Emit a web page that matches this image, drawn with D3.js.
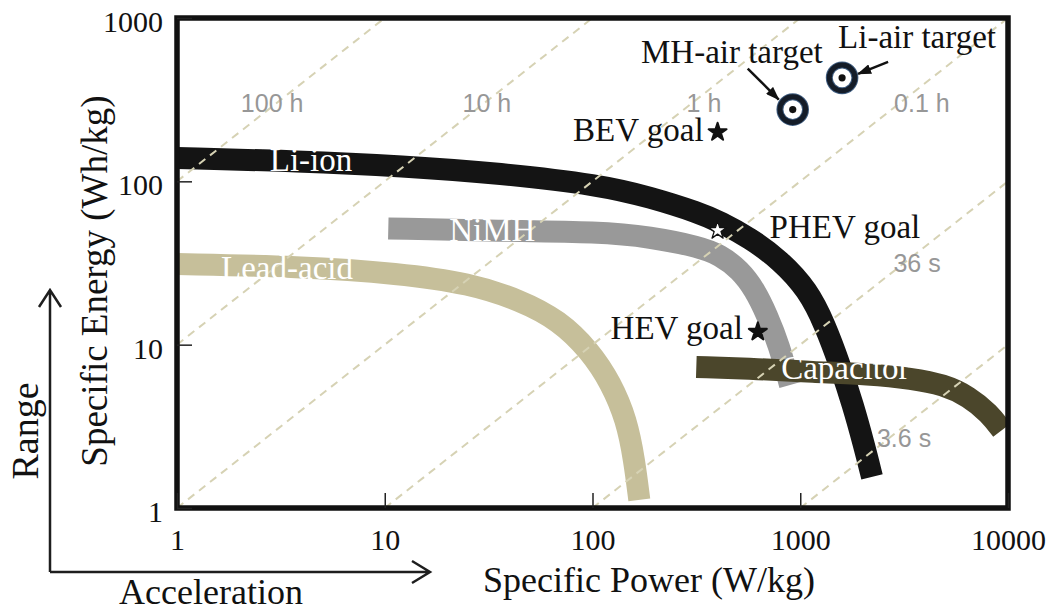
<!DOCTYPE html>
<html>
<head>
<meta charset="utf-8">
<script src="https://cdn.jsdelivr.net/npm/d3@7"></script>
<style>
  html, body { margin: 0; padding: 0; background: #ffffff; }
  svg { display: block; }
</style>
</head>
<body>
<svg id="chart" width="1053" height="611"></svg>
<script>
// Ragone plot: specific energy vs specific power of energy-storage technologies

// ---- data ----
const powerTicks = [1, 10, 100, 1000, 10000];
const energyTicks = [1, 10, 100, 1000];

const technologies = ["Lead-acid", "NiMH", "Li-ion", "Capacitor"];

// specific power (W/kg) / specific energy (Wh/kg) along each technology band
const leadAcidPower  = [1, 3.9, 11.8, 25.6, 45, 69, 97, 123, 146, 159, 168];
const leadAcidEnergy = [31.2, 30.1, 27.3, 23.7, 18.7, 14.1, 9.2, 5.8, 3.45, 1.96, 1.12];

const nimhPower  = [10.4, 36, 109, 189, 329, 411, 513, 606, 692, 790, 893];
const nimhEnergy = [51.5, 49.7, 49, 45.7, 39.6, 35.4, 28.7, 21.6, 15.2, 9.96, 5.66];

const liIonPower  = [1, 3.9, 12.2, 36, 109, 189, 329, 411, 573, 799, 1090, 1316, 1553, 1795, 2028, 2215];
const liIonEnergy = [139, 133, 124, 112, 95, 80, 64, 56.4, 45, 33, 21.6, 13.2, 7.5, 4.27, 2.43, 1.55];

const capacitorPower  = [316, 635, 1140, 2150, 3450, 4900, 6500, 8100, 9350];
const capacitorEnergy = [7.3, 7.1, 6.8, 6.6, 6.2, 5.7, 4.8, 3.8, 3.0];

// constant discharge-time lines (hours) and their labels
const dischargeHours  = [100, 10, 1, 0.1, 0.01, 0.001];
const dischargeLabels = ["100 h", "10 h", "1 h", "0.1 h", "36 s", "3.6 s"];
const dischargeLabelPower  = [2.87, 31, 344, 3850, 3650, 3160];
const dischargeLabelEnergy = [265, 265, 265, 265, 27.9, 2.36];

// vehicle goals
const goalNames  = ["BEV goal", "PHEV goal", "HEV goal"];
const goalPower  = [400, 400, 625];
const goalEnergy = [200, 50, 12];

// metal-air targets
const targetNames  = ["MH-air target", "Li-air target"];
const targetPower  = [920, 1590];
const targetEnergy = [275, 430];

// ---- layout ----
const serif = "'Liberation Serif', 'Times New Roman', serif";
const sans  = "'Liberation Sans', Arial, sans-serif";
const plot = { left: 177, right: 1008, top: 18, bottom: 508 };

const svg = d3.select("#chart");

const x = d3.scaleLog().domain([1, 10000]).range([plot.left, plot.right]);
const y = d3.scaleLog().domain([1, 1000]).range([plot.bottom, plot.top]);

svg.append("defs").append("clipPath").attr("id", "plot-clip")
  .append("rect")
  .attr("x", plot.left).attr("y", plot.top)
  .attr("width", plot.right - plot.left).attr("height", plot.bottom - plot.top);

const bandStyle = {
  "Lead-acid": { color: "#c6bf9a", power: leadAcidPower, energy: leadAcidEnergy,
                 label: { p: 1, e: 30, dx: 110, dy: 12 } },
  "NiMH":      { color: "#999999", power: nimhPower, energy: nimhEnergy,
                 label: { p: 10.4, e: 51, dx: 104, dy: 12 } },
  "Li-ion":    { color: "#141414", power: liIonPower, energy: liIonEnergy,
                 label: { p: 1, e: 137, dx: 134, dy: 12 } },
  "Capacitor": { color: "#4b462b", power: capacitorPower, energy: capacitorEnergy,
                 label: { p: 316, e: 7.3, dx: 149, dy: 12 } }
};

const bandLine = d3.line()
  .x(d => x(d[0]))
  .y(d => y(d[1]))
  .curve(d3.curveBasis);

// technology bands
const bands = svg.append("g").attr("clip-path", "url(#plot-clip)");
technologies.forEach(name => {
  const s = bandStyle[name];
  const pts = s.power.map((p, i) => [p, s.energy[i]]);
  bands.append("path")
    .attr("d", bandLine(pts))
    .attr("fill", "none")
    .attr("stroke", s.color)
    .attr("stroke-width", 22)
    .attr("stroke-linecap", "butt")
    .attr("stroke-linejoin", "round");
});

// constant discharge-time lines E = t * P
const timeLines = svg.append("g").attr("clip-path", "url(#plot-clip)");
dischargeHours.forEach(t => {
  const p0 = Math.max(1, 1 / t);
  const p1 = Math.min(10000, 1000 / t);
  timeLines.append("line")
    .attr("x1", x(p0)).attr("y1", y(t * p0))
    .attr("x2", x(p1)).attr("y2", y(t * p1))
    .attr("stroke", "#d6d2b4")
    .attr("stroke-width", 2)
    .attr("stroke-dasharray", "8,6");
});

// discharge-time labels
svg.append("g").selectAll("text")
  .data(dischargeLabels)
  .join("text")
  .attr("x", (d, i) => x(dischargeLabelPower[i]))
  .attr("y", (d, i) => y(dischargeLabelEnergy[i]))
  .attr("text-anchor", "middle")
  .attr("font-family", sans)
  .attr("font-size", 25)
  .attr("fill", "#979797")
  .text(d => d);

// band labels
technologies.forEach(name => {
  const s = bandStyle[name];
  svg.append("text")
    .attr("x", x(s.label.p) + s.label.dx)
    .attr("y", y(s.label.e) + s.label.dy)
    .attr("text-anchor", "middle")
    .attr("font-family", serif)
    .attr("font-size", 33)
    .attr("fill", "#ffffff")
    .text(name);
});

// frame
svg.append("rect")
  .attr("x", plot.left).attr("y", plot.top)
  .attr("width", plot.right - plot.left).attr("height", plot.bottom - plot.top)
  .attr("fill", "none")
  .attr("stroke", "#111111")
  .attr("stroke-width", 5.5);

// axes (ticks pointing inward)
const xAxis = d3.axisBottom(x)
  .tickValues(powerTicks)
  .tickFormat(d3.format("d"))
  .tickSize(-15)
  .tickPadding(21);
const gx = svg.append("g")
  .attr("transform", `translate(0,${plot.bottom})`)
  .call(xAxis);

const yAxis = d3.axisLeft(y)
  .tickValues(energyTicks)
  .tickFormat(d3.format("d"))
  .tickSize(-15)
  .tickPadding(14);
const gy = svg.append("g")
  .attr("transform", `translate(${plot.left},0)`)
  .call(yAxis);

[gx, gy].forEach(g => {
  g.select(".domain").remove();
  g.selectAll(".tick line").attr("stroke", "#222").attr("stroke-width", 1.5);
  g.selectAll(".tick text")
    .attr("font-family", serif)
    .attr("font-size", 30)
    .attr("fill", "#111");
});
gy.selectAll(".tick text").attr("dy", "0.45em");

// axis titles
svg.append("text")
  .attr("x", 649).attr("y", 592)
  .attr("text-anchor", "middle")
  .attr("font-family", serif).attr("font-size", 36).attr("fill", "#111")
  .text("Specific Power (W/kg)");

svg.append("text")
  .attr("transform", "translate(107,281) rotate(-90)")
  .attr("text-anchor", "middle")
  .attr("font-family", serif).attr("font-size", 37).attr("fill", "#111")
  .text("Specific Energy (Wh/kg)");

// Range / Acceleration arrows
const arrowOrigin = { x: 50, y: 572 };
const guides = svg.append("g")
  .attr("fill", "none").attr("stroke", "#1e1e1e").attr("stroke-width", 2.5);
guides.append("path")
  .attr("d", `M${arrowOrigin.x},${arrowOrigin.y} V290 M${arrowOrigin.x - 11},307 L${arrowOrigin.x},290 L${arrowOrigin.x + 11},307`);
guides.append("path")
  .attr("d", `M${arrowOrigin.x},${arrowOrigin.y} H430 M412,561 L430,${arrowOrigin.y} L412,583`);

svg.append("text")
  .attr("transform", "translate(38,431) rotate(-90)")
  .attr("text-anchor", "middle")
  .attr("font-family", serif).attr("font-size", 38).attr("fill", "#111")
  .text("Range");

svg.append("text")
  .attr("x", 211).attr("y", 604)
  .attr("text-anchor", "middle")
  .attr("font-family", serif).attr("font-size", 36).attr("fill", "#111")
  .text("Acceleration");

// vehicle goal stars
const goalLayout = [
  { fill: "#111111", anchor: "end",   dx: -14, dy: 9 },
  { fill: "#ffffff", anchor: "start", dx: 52,  dy: 7 },
  { fill: "#111111", anchor: "end",   dx: -15, dy: 7 }
];
const star = d3.symbol().type(d3.symbolStar).size(100);
goalNames.forEach((name, i) => {
  const cx = x(goalPower[i]), cy = y(goalEnergy[i]);
  svg.append("path")
    .attr("d", star())
    .attr("transform", `translate(${cx},${cy})`)
    .attr("fill", goalLayout[i].fill)
    .attr("stroke", "#111111")
    .attr("stroke-width", goalLayout[i].fill === "#ffffff" ? 1.3 : 2)
    .attr("stroke-linejoin", "round");
  svg.append("text")
    .attr("x", cx + goalLayout[i].dx)
    .attr("y", cy + goalLayout[i].dy)
    .attr("text-anchor", goalLayout[i].anchor)
    .attr("font-family", serif).attr("font-size", 33).attr("fill", "#111")
    .text(name);
});

// metal-air targets with pointer arrows
svg.select("defs").append("marker")
  .attr("id", "arrowhead")
  .attr("viewBox", "0 0 14 10")
  .attr("refX", 13).attr("refY", 5)
  .attr("markerWidth", 14).attr("markerHeight", 10)
  .attr("markerUnits", "userSpaceOnUse")
  .attr("orient", "auto")
  .append("path")
  .attr("d", "M0,0 L14,5 L0,10 Z")
  .attr("fill", "#111111");

const targetLayout = [
  { anchor: "end",   dx: 30, dy: -47, tip: [-14, -10], tail: [-45, -41] },
  { anchor: "start", dx: -4, dy: -30, tip: [16, -4],   tail: [46, -16] }
];
targetNames.forEach((name, i) => {
  const cx = x(targetPower[i]), cy = y(targetEnergy[i]);
  const L = targetLayout[i];
  svg.append("circle")
    .attr("cx", cx).attr("cy", cy).attr("r", 12.8)
    .attr("fill", "#ffffff")
    .attr("stroke", "#3f5d80").attr("stroke-width", 7);
  svg.append("circle")
    .attr("cx", cx).attr("cy", cy).attr("r", 12.8)
    .attr("fill", "none")
    .attr("stroke", "#141c28").attr("stroke-width", 5);
  svg.append("circle")
    .attr("cx", cx).attr("cy", cy).attr("r", 3.6)
    .attr("fill", "#111111");
  svg.append("line")
    .attr("x1", cx + L.tail[0]).attr("y1", cy + L.tail[1])
    .attr("x2", cx + L.tip[0]).attr("y2", cy + L.tip[1])
    .attr("stroke", "#111111").attr("stroke-width", 2.5)
    .attr("marker-end", "url(#arrowhead)");
  svg.append("text")
    .attr("x", cx + L.dx).attr("y", cy + L.dy)
    .attr("text-anchor", L.anchor)
    .attr("font-family", serif).attr("font-size", 33).attr("fill", "#111")
    .text(name);
});
</script>
</body>
</html>
